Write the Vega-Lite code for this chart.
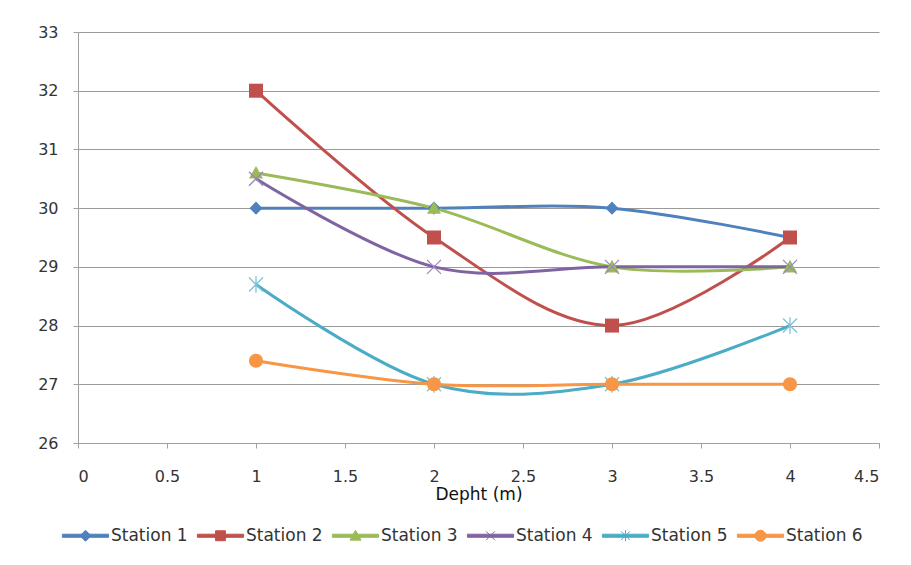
{
  "$schema": "https://vega.github.io/schema/vega-lite/v6.json",
  "width": 801,
  "height": 411,
  "autosize": {"type": "none"},
  "padding": {"left": 78, "top": 32, "right": 32, "bottom": 122},
  "background": "white",
  "config": {
    "view": {"stroke": null},
    "font": "DejaVu Sans",
    "axis": {
      "labelFont": "DejaVu Sans",
      "labelFontSize": 16,
      "labelColor": "#333333",
      "domainColor": "#a0a0a0",
      "tickColor": "#a0a0a0",
      "gridColor": "#9a9a9a",
      "tickSize": 5
    }
  },
  "data": {
    "values": [
      {"depth": 1, "temp": 30, "station": "Station 1"},
      {"depth": 2, "temp": 30, "station": "Station 1"},
      {"depth": 3, "temp": 30, "station": "Station 1"},
      {"depth": 4, "temp": 29.5, "station": "Station 1"},
      {"depth": 1, "temp": 32, "station": "Station 2"},
      {"depth": 2, "temp": 29.5, "station": "Station 2"},
      {"depth": 3, "temp": 28, "station": "Station 2"},
      {"depth": 4, "temp": 29.5, "station": "Station 2"},
      {"depth": 1, "temp": 30.6, "station": "Station 3"},
      {"depth": 2, "temp": 30, "station": "Station 3"},
      {"depth": 3, "temp": 29, "station": "Station 3"},
      {"depth": 4, "temp": 29, "station": "Station 3"},
      {"depth": 1, "temp": 30.5, "station": "Station 4"},
      {"depth": 2, "temp": 29, "station": "Station 4"},
      {"depth": 3, "temp": 29, "station": "Station 4"},
      {"depth": 4, "temp": 29, "station": "Station 4"},
      {"depth": 1, "temp": 28.7, "station": "Station 5"},
      {"depth": 2, "temp": 27, "station": "Station 5"},
      {"depth": 3, "temp": 27, "station": "Station 5"},
      {"depth": 4, "temp": 28, "station": "Station 5"},
      {"depth": 1, "temp": 27.4, "station": "Station 6"},
      {"depth": 2, "temp": 27, "station": "Station 6"},
      {"depth": 3, "temp": 27, "station": "Station 6"},
      {"depth": 4, "temp": 27, "station": "Station 6"}
    ]
  },
  "encoding": {
    "x": {
      "field": "depth",
      "type": "quantitative",
      "scale": {"domain": [0, 4.5], "nice": false, "zero": false},
      "axis": {
        "values": [0, 0.5, 1, 1.5, 2, 2.5, 3, 3.5, 4, 4.5],
        "format": "~g",
        "grid": false,
        "labelPadding": 20,
        "title": "Depht (m)",
        "titleFont": "DejaVu Sans",
        "titleFontSize": 17,
        "titleFontWeight": "normal",
        "titleColor": "#111111",
        "titlePadding": 2
      }
    },
    "y": {
      "field": "temp",
      "type": "quantitative",
      "scale": {"domain": [26, 33], "nice": false, "zero": false},
      "axis": {
        "values": [26, 27, 28, 29, 30, 31, 32, 33],
        "grid": true,
        "title": null,
        "labelPadding": 15
      }
    }
  },
  "layer": [
    {
      "mark": {"type": "line", "interpolate": "cardinal", "strokeWidth": 3},
      "encoding": {
        "color": {
          "field": "station",
          "type": "nominal",
          "scale": {
            "domain": ["Station 1", "Station 2", "Station 3", "Station 4", "Station 5", "Station 6"],
            "range": ["#4F81BD", "#C0504D", "#9BBB59", "#8064A2", "#4BACC6", "#F79646"]
          },
          "legend": {
            "title": null,
            "orient": "none",
            "direction": "horizontal",
            "legendX": -4,
            "legendY": 492,
            "columns": 6,
            "columnPadding": 7,
            "symbolSize": 484,
            "labelOffset": 14,
            "labelFont": "DejaVu Sans",
            "labelFontSize": 17,
            "labelColor": "#333333",
            "labelLimit": 200,
            "encode": {
              "symbols": {
                "update": {
                  "shape": {"signal": "datum.value === 'Station 1' ? 'M-2.1,-0.14H2.1V0.14H-2.1ZM0,-0.5L0.5,0L0,0.5L-0.5,0Z' : datum.value === 'Station 2' ? 'M-2.1,-0.14H2.1V0.14H-2.1ZM-0.45,-0.45H0.45V0.45H-0.45Z' : datum.value === 'Station 3' ? 'M-2.1,-0.14H2.1V0.14H-2.1ZM0,-0.5L0.5,0.4H-0.5Z' : datum.value === 'Station 4' ? 'M-2.1,-0.14H2.1V0.14H-2.1ZM-0.4,-0.4L0.4,0.4M-0.4,0.4L0.4,-0.4' : datum.value === 'Station 5' ? 'M-2.1,-0.14H2.1V0.14H-2.1ZM-0.4,-0.4L0.4,0.4M-0.4,0.4L0.4,-0.4M0,-0.5V0.5' : 'M-2.1,-0.14H2.1V0.14H-2.1ZM0.5,0A0.5,0.5,0,1,1,-0.5,0A0.5,0.5,0,1,1,0.5,0Z'"},
                  "fill": {"signal": "scale('color', datum.value)"},
                  "stroke": {"signal": "scale('color', datum.value)"},
                  "strokeWidth": {"value": 1},
                  "opacity": {"value": 1},
                  "fillOpacity": {"value": 1}
                }
              }
            }
          }
        }
      }
    },
    {
      "transform": [{"filter": "datum.station === 'Station 1'"}],
      "mark": {"type": "point", "shape": "M0,-1L1,0L0,1L-1,0Z", "filled": true, "size": 170, "color": "#4F81BD", "opacity": 1}
    },
    {
      "transform": [{"filter": "datum.station === 'Station 2'"}],
      "mark": {"type": "point", "shape": "M-1,-1H1V1H-1Z", "filled": true, "size": 196, "color": "#C0504D", "opacity": 1}
    },
    {
      "transform": [{"filter": "datum.station === 'Station 3'"}],
      "mark": {"type": "point", "shape": "M0,-1L1,0.8H-1Z", "filled": true, "size": 196, "color": "#9BBB59", "opacity": 1}
    },
    {
      "transform": [{"filter": "datum.station === 'Station 4'"}],
      "mark": {"type": "point", "shape": "M-1,-1L1,1M-1,1L1,-1", "filled": false, "size": 196, "color": "#9A86BC", "strokeWidth": 1.3, "opacity": 1}
    },
    {
      "transform": [{"filter": "datum.station === 'Station 5'"}],
      "mark": {"type": "point", "shape": "M-1,-1L1,1M-1,1L1,-1M0,-1.2V1.2", "filled": false, "size": 196, "color": "#7CC3D6", "strokeWidth": 1.3, "opacity": 1}
    },
    {
      "transform": [{"filter": "datum.station === 'Station 6'"}],
      "mark": {"type": "point", "shape": "M1,0A1,1,0,1,1,-1,0A1,1,0,1,1,1,0Z", "filled": true, "size": 196, "color": "#F79646", "opacity": 1}
    }
  ]
}
